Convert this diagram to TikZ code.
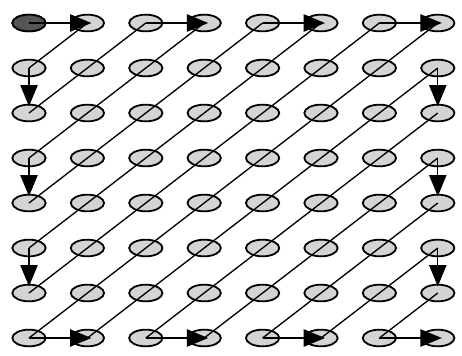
\documentclass[tikz,border=0pt]{standalone}
\usetikzlibrary{shapes.geometric,arrows.meta}
\definecolor{cellgray}{RGB}{212,212,212}
\definecolor{startgray}{RGB}{85,85,85}
\begin{document}
\begin{tikzpicture}[x=0.75pt,y=-0.75pt,
  cell/.style={ellipse,draw=black,line width=1.35pt,fill=cellgray,minimum width=25pt,minimum height=12.5pt,inner sep=0pt},
  startcell/.style={cell,fill=startgray},
  diag/.style={draw=black,line width=1pt},
  harrow/.style={diag,-{Triangle[length=16pt,width=13pt]},shorten >=-3pt},
  varrow/.style={diag,-{Triangle[length=16pt,width=13pt]},shorten >=5pt}]
\useasboundingbox (0,0) rectangle (462,355);
\foreach \r in {0,...,7}{
  \foreach \c in {0,...,7}{
    \node[cell] (n-\r-\c) at ({29+58.4*\c},{23+45*\r}) {};
  }
}
\node[startcell] at (n-0-0) {};
% diagonals
\foreach \a/\b in {0-1/1-0, 2-0/0-2, 0-3/3-0, 4-0/0-4, 0-5/5-0, 6-0/0-6, 0-7/7-0,
                   7-1/1-7, 2-7/7-2, 7-3/3-7, 4-7/7-4, 7-5/5-7, 6-7/7-6}{
  \draw[diag] (n-\a.center) -- (n-\b.center);
}
% horizontal arrows
\foreach \a/\b in {0-0/0-1, 0-2/0-3, 0-4/0-5, 0-6/0-7, 7-0/7-1, 7-2/7-3, 7-4/7-5, 7-6/7-7}{
  \draw[harrow] (n-\a.center) -- (n-\b.center);
}
% vertical arrows
\foreach \a/\b in {1-0/2-0, 3-0/4-0, 5-0/6-0, 1-7/2-7, 3-7/4-7, 5-7/6-7}{
  \draw[varrow] (n-\a.center) -- (n-\b.center);
}
\end{tikzpicture}
\end{document}
